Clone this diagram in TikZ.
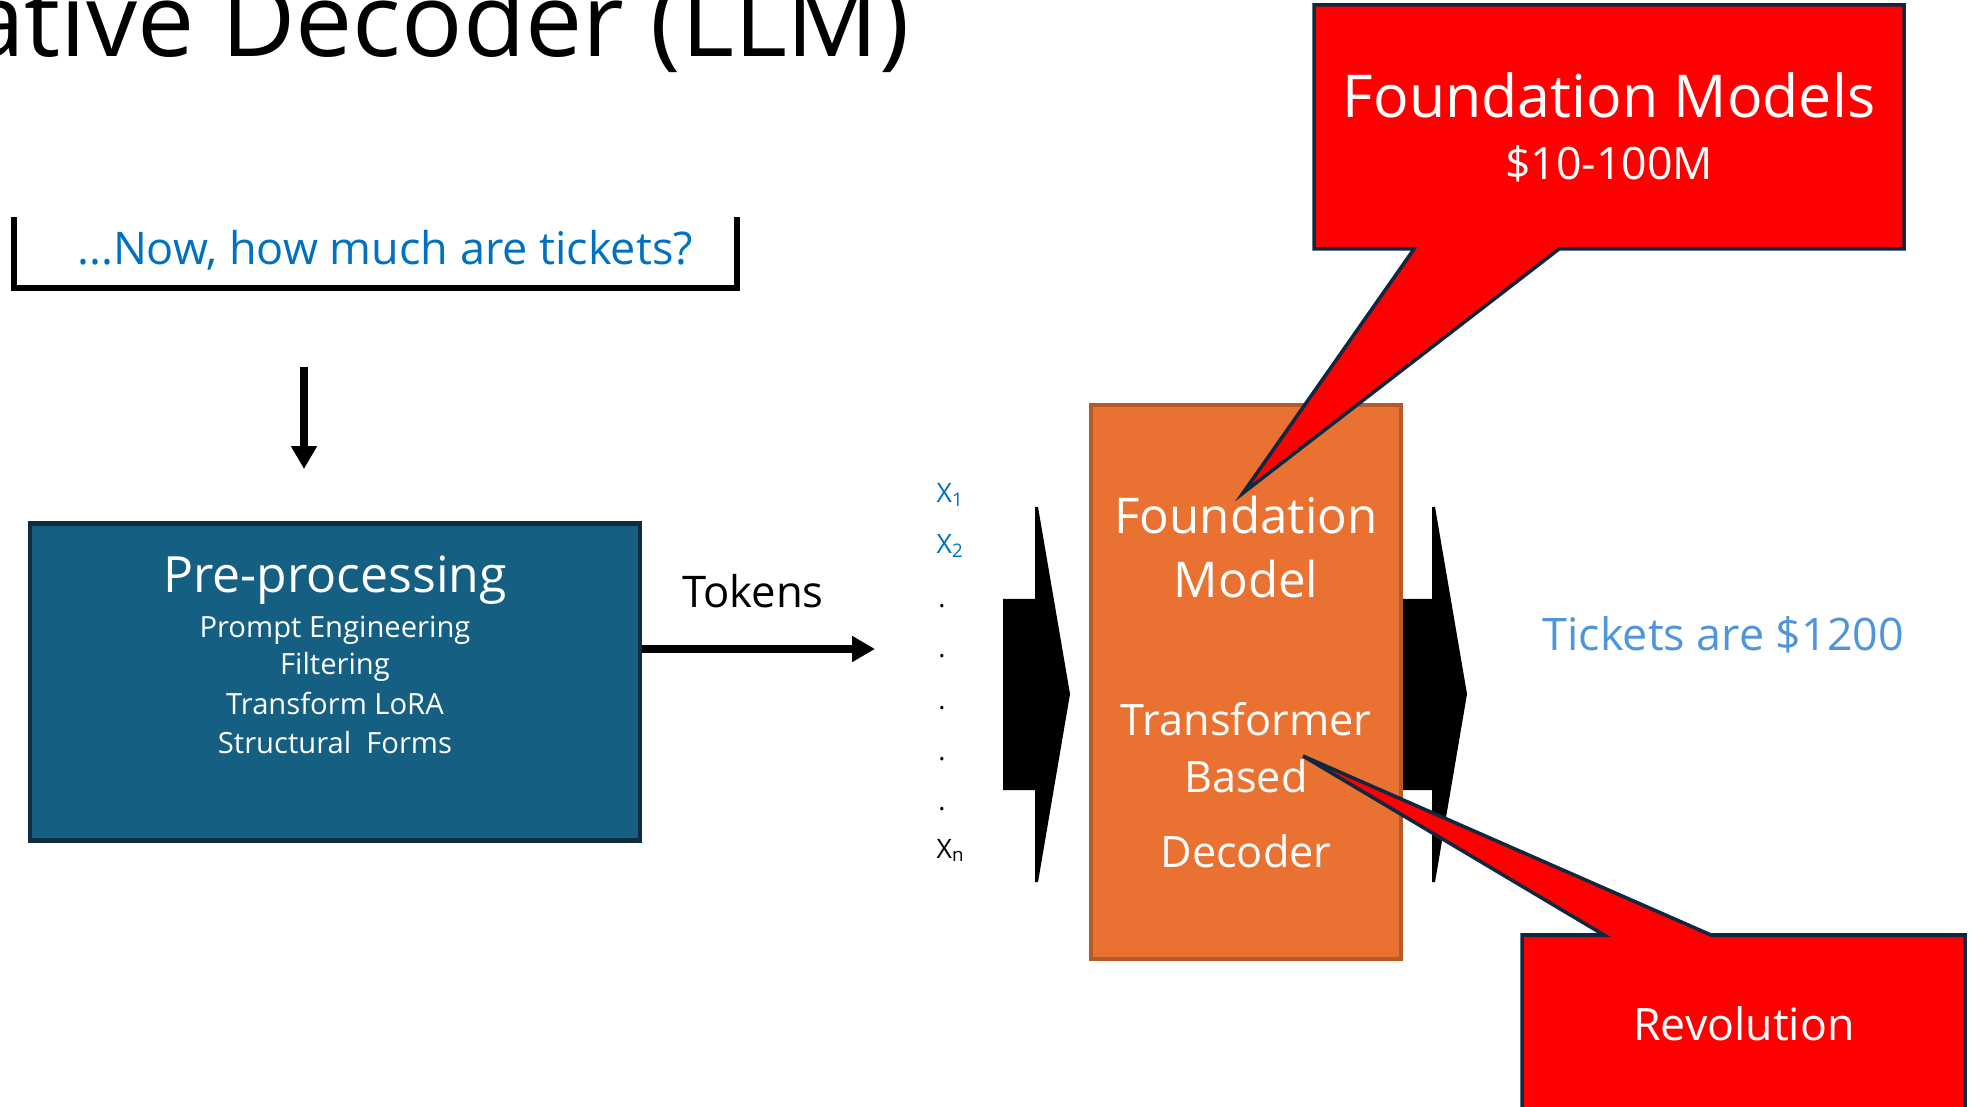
\documentclass[tikz,border=0pt]{standalone}
\usepackage{fontspec}
\setmainfont{Open Sans}
\usepackage{tikz}
\usetikzlibrary{positioning,arrows.meta}
\definecolor{prepfill}{HTML}{156082}
\definecolor{prepedge}{HTML}{0F2D3E}
\definecolor{fmfill}{HTML}{E97132}
\definecolor{fmedge}{HTML}{B65A27}
\definecolor{qblue}{HTML}{0070C0}
\definecolor{ansblue}{HTML}{4E95D9}
\definecolor{calledge}{HTML}{0E2841}
\newcommand{\fsz}[1]{\fontsize{#1}{1.2\dimexpr #1pt\relax}\selectfont}
\tikzset{
  >={Triangle[length=6.5pt,width=7pt]},
  titletxt/.style={font=\fsz{29},inner sep=0pt,anchor=base east},
  qframe/.style={minimum width=7.21cm,minimum height=0.66cm,inner sep=0pt},
  qbracket/.style={line width=1.8pt,line cap=rect},
  qtxt/.style={font=\fsz{12.8},text=qblue,inner sep=0pt,anchor=base},
  flow/.style={->,line width=2.1pt},
  prepbox/.style={draw=prepedge,fill=prepfill,line width=1.2pt,
    minimum width=6.09cm,minimum height=3.17cm,inner sep=0pt},
  prephead/.style={font=\fsz{14.2},text=white,inner sep=0pt,anchor=base},
  prepitem/.style={font=\fsz{8.3},text=white,inner sep=0pt,anchor=base},
  flowlbl/.style={font=\fsz{12.4},inner sep=0pt,anchor=base},
  toklbl/.style={font=\fsz{7.6},inner sep=0pt,anchor=base west},
  tokdot/.style={font=\fsz{7.6},inner sep=0pt,anchor=base},
  blkarrow/.style={fill=black},
  fmbox/.style={draw=fmedge,fill=fmfill,line width=1.1pt,
    minimum width=3.10cm,minimum height=5.53cm,inner sep=0pt},
  fmbig/.style={font=\fsz{14},text=white,inner sep=0pt,anchor=base},
  fmsmall/.style={font=\fsz{12.3},text=white,inner sep=0pt,anchor=base},
  anstxt/.style={font=\fsz{12.75},text=ansblue,inner sep=0pt,anchor=base west},
  callout/.style={draw=calledge,fill=red,line width=1pt,line join=miter},
  callbig/.style={font=\fsz{16.8},text=white,inner sep=0pt,anchor=base},
  calltxt/.style={font=\fsz{12.7},text=white,inner sep=0pt,anchor=base},
}

\begin{document}
\begin{tikzpicture}[x=0.01cm,y=-0.01cm]
  \useasboundingbox (0,0) rectangle (1977,1107);
  % title, cut at the top left
  \node[titletxt] (title) at (910,57) {ative Decoder (LLM)};
  % prompt
  \node[qframe] (qf) at (375.5,254) {};
  \draw[qbracket] (qf.north west) -- (qf.south west) -- (qf.south east) -- (qf.north east);
  \node[qtxt] (q) at (385,265) {...Now, how much are tickets?};
  \coordinate (qa1) at (304,367);
  \coordinate (qa2) at (304,469);
  \draw[flow] (qa1) -- (qa2);
  % pre-processing
  \node[prepbox] (prep) at (335,682) {};
  \node[prephead] (pre) at (335,593) {Pre-processing};
  \node[prepitem] (pe) at (335,638) {Prompt Engineering};
  \node[prepitem] (fi) at (335,675) {Filtering};
  \node[prepitem] (tl) at (335,715) {Transform LoRA};
  \node[prepitem] (sf) at (335,753) {Structural\ \ Forms};
  % tokens
  \coordinate (tokend) at (875,649);
  \draw[flow] (prep.east |- tokend) -- (tokend);
  \node[flowlbl] (tok) at (753,607) {Tokens};
  \node[toklbl,text=qblue] (x1) at (936,503) {X\textsubscript{1}};
  \node[toklbl,text=qblue] (x2) at (936,554) {X\textsubscript{2}};
  \foreach \i/\y in {1/608,2/658,3/709,4/760,5/810}
    \node[tokdot] (d\i) at (942,\y) {.};
  \node[toklbl] (xn) at (936,858) {X\textsubscript{n}};
  % block arrows
  \fill[blkarrow] (1003,599) -- (1035,599) -- (1035,507) -- (1038,507) -- (1070,694)
    -- (1038,882) -- (1035,882) -- (1035,790) -- (1003,790) -- cycle;
  \fill[blkarrow] (1396,599) -- (1432,599) -- (1432,507) -- (1435,507) -- (1467,694)
    -- (1435,882) -- (1432,882) -- (1432,790) -- (1396,790) -- cycle;
  % foundation model
  \node[fmbox] (fm) at (1246,682) {};
  \node[fmbig] (fm1) at (1246,534) {Foundation};
  \node[fmbig] (fm2) at (1246,598) {Model};
  \node[fmsmall] (fm3) at (1246,735) {Transformer};
  \node[fmsmall] (fm4) at (1246,792) {Based};
  \node[fmsmall] (fm5) at (1246,867) {Decoder};
  % answer
  \node[anstxt] (ans) at (1542,650) {Tickets are \$1200};
  % callouts
  \coordinate (fmtip) at (1243,493);
  \coordinate (revtip) at (1303,756);
  \filldraw[callout] (1314,5) -- (1904,5) -- (1904,249) -- (1559,249) -- (fmtip)
    -- (1414,249) -- (1314,249) -- cycle;
  \node[callbig] (cb1) at (1609,118) {Foundation Models};
  \node[calltxt] (cb2) at (1609,180) {\$10-100M};
  \filldraw[callout] (1522,935) -- (1604,935) -- (revtip) -- (1711,935) -- (1965,935)
    -- (1965,1130) -- (1522,1130) -- cycle;
  \node[calltxt] (rev) at (1744,1040) {Revolution};
\end{tikzpicture}
\end{document}
